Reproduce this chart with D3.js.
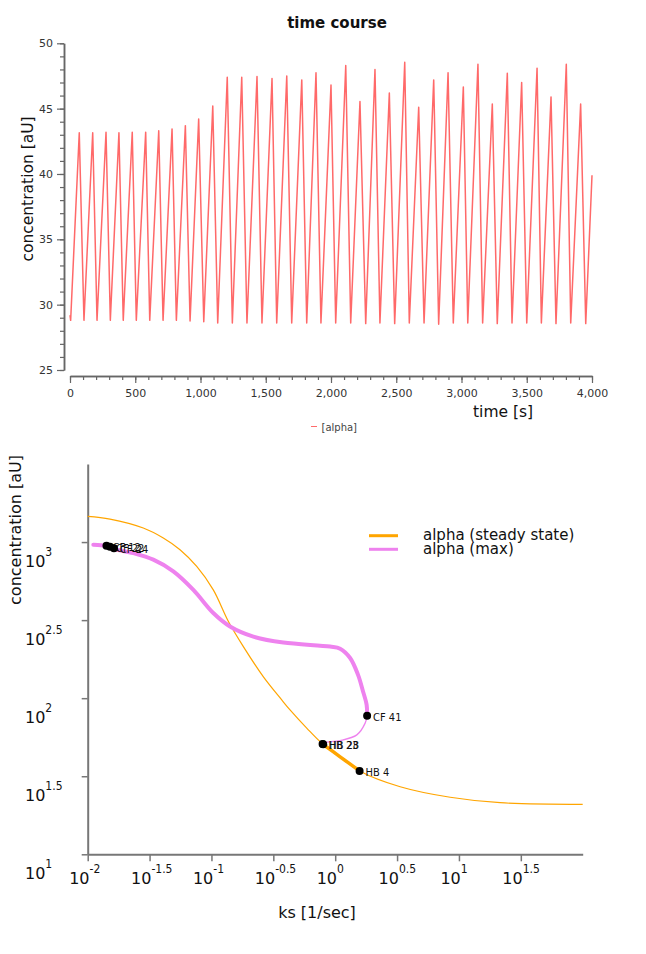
<!DOCTYPE html>
<html>
<head>
<meta charset="utf-8">
<script src="https://cdn.jsdelivr.net/npm/d3@7"></script>
<style>
body { margin: 0; background: #fff; }
text { font-family: "DejaVu Sans", sans-serif; }
</style>
</head>
<body>
<script>
// time course: turning points of alpha
const tcTime = [
    0, 5,
    71, 107, 174, 207, 276, 309, 375, 408, 477, 508, 580, 611, 680, 713, 782, 815, 884, 920,
    986, 1025, 1094, 1132, 1205, 1244, 1316, 1356, 1433, 1471, 1548, 1584, 1661, 1699, 1776, 1814,
    1885, 1923, 2000, 2036, 2113, 2151, 2222, 2266, 2337, 2375, 2447, 2488, 2565, 2600, 2672, 2713,
    2787, 2825, 2897, 2937, 3014, 3048, 3126, 3162, 3236, 3274, 3351, 3387, 3461, 3500, 3579, 3612,
    3686, 3724, 3803, 3837, 3913, 3952, 4000
];
const tcConc = [
    29.2, 28.8,
    43.15, 28.8, 43.15, 28.8, 43.2, 28.8, 43.15, 28.8, 43.2, 28.8, 43.2, 28.8, 43.3, 28.8, 43.45, 28.8, 43.7, 28.75,
    44.2, 28.7, 45.2, 28.6, 47.4, 28.6, 47.4, 28.6, 47.45, 28.6, 47.3, 28.6, 47.5, 28.6, 47.2, 28.6,
    47.75, 28.6, 46.8, 28.6, 48.3, 28.6, 45.55, 28.55, 48.0, 28.6, 46.2, 28.55, 48.55, 28.6, 45.1, 28.6,
    47.2, 28.5, 47.75, 28.6, 46.65, 28.6, 48.4, 28.6, 45.35, 28.55, 47.7, 28.6, 47.0, 28.6, 48.1, 28.6,
    45.9, 28.55, 48.4, 28.6, 45.35, 28.55, 39.9
];
const tcYTicks = [25, 30, 35, 40, 45, 50];
const tcYMinor = d3.range(25, 51, 1);
const tcXTicks = [0, 500, 1000, 1500, 2000, 2500, 3000, 3500, 4000];
const tcXMinor = d3.range(0, 4001, 100);

// bifurcation diagram
const ssKs = [0.01, 0.01514, 0.02812, 0.04083, 0.05572, 0.07603, 0.1035, 0.1371, 0.1811, 0.263, 0.3698, 0.4315, 0.5888, 0.7907, 1.096, 1.574, 3.35, 8.492, 21.53, 100];
const ssConc = [1459, 1403, 1230, 1062, 893, 698, 494, 310, 214, 137, 97.5, 84.1, 64.3, 50.9, 42.1, 34.2, 27.1, 23.2, 21.4, 20.9];
const ssUnstable = [false, false, false, false, false, false, false, false, false, false, false, false, false, true, true, true, false, false, false, false];
const maxKs = [0.0111, 0.01418, 0.0161, 0.02339, 0.0339, 0.0492, 0.07142, 0.1035, 0.1412, 0.2181, 0.3811, 0.9099, 1.096, 1.32, 1.53, 1.681, 1.795, 1.811];
const maxConc = [961, 946, 906, 849, 771, 649, 494, 351, 288, 248, 227, 214, 207.6, 181, 141, 110, 90.6, 77.3];
const maxUnKs = [1.811, 1.746, 1.496, 1.096, 0.8227, 0.7907];
const maxUnConc = [77.3, 69.2, 58.2, 53.5, 51.9, 50.9];
const bifName = ["CF 12", "CF 22", "CF 24", "HB 28", "HB 23", "CF 41", "HB 4"];
const bifKs = [0.01418, 0.01514, 0.0163, 0.80, 0.7907, 1.811, 1.574];
const bifConc = [946, 933, 912, 50.6, 50.9, 77.3, 34.2];
const xExp = ["-2", "-1.5", "-1", "-0.5", "0", "0.5", "1", "1.5"];
const yExp = ["1", "1.5", "2", "2.5", "3"];

const svg = d3.select("body").append("svg")
.attr("width", 646)
.attr("height", 954);

// ---------- top: time course ----------
const x1 = d3.scaleLinear().domain([0, 4000]).range([70, 592]);
const y1 = d3.scaleLinear().domain([25, 50]).range([370, 43.3]);

svg.append("text")
.attr("x", 337)
.attr("y", 28)
.attr("text-anchor", "middle")
.style("font-size", "15px")
.style("font-weight", "bold")
.style("fill", "#111")
.text("time course");

function styleAxis(g, color) {
    g.select(".domain").attr("stroke", color).attr("stroke-width", 1.5);
    g.selectAll(".tick line").attr("stroke", color).attr("stroke-width", 1.2);
    g.selectAll("text").style("font-family", "DejaVu Sans").style("font-size", "11px").style("fill", "#333");
}

svg.append("g")
.attr("transform", "translate(64,0)")
.call(d3.axisLeft(y1).tickValues(tcYMinor).tickSize(4).tickSizeOuter(0).tickFormat(""))
.call(g => styleAxis(g, "#666"));
svg.append("g")
.attr("transform", "translate(64,0)")
.call(d3.axisLeft(y1).tickValues(tcYTicks).tickSize(7).tickSizeOuter(0).tickPadding(4))
.call(g => styleAxis(g, "#666"));

svg.append("g")
.attr("transform", "translate(0,376)")
.call(d3.axisBottom(x1).tickValues(tcXMinor).tickSize(4).tickSizeOuter(0).tickFormat(""))
.call(g => styleAxis(g, "#666"));
svg.append("g")
.attr("transform", "translate(0,376)")
.call(d3.axisBottom(x1).tickValues(tcXTicks).tickSize(7).tickSizeOuter(0).tickPadding(6).tickFormat(d3.format(",")))
.call(g => styleAxis(g, "#666"));

svg.append("text")
.attr("transform", "translate(33,189) rotate(-90)")
.attr("text-anchor", "middle")
.style("font-size", "15.5px")
.style("fill", "#111")
.text("concentration [aU]");

svg.append("text")
.attr("x", 473)
.attr("y", 417)
.style("font-size", "15.5px")
.style("fill", "#111")
.text("time [s]");

const tcLine = d3.line()
.x((d, i) => x1(tcTime[i]))
.y(d => y1(d));

svg.append("path")
.attr("d", tcLine(tcConc))
.attr("fill", "none")
.attr("stroke", "#ff2a2a")
.attr("stroke-width", 1.5)
.attr("stroke-opacity", 0.7)
.attr("stroke-linejoin", "round");

svg.append("line")
.attr("x1", 311).attr("x2", 317)
.attr("y1", 426.5).attr("y2", 426.5)
.attr("stroke", "#ff6b6b")
.attr("stroke-width", 1);
svg.append("text")
.attr("x", 321.5)
.attr("y", 430.5)
.style("font-size", "10px")
.style("fill", "#444")
.text("[alpha]");

// ---------- bottom: bifurcation diagram ----------
const x2 = d3.scaleLog().domain([0.01, 100]).range([87.7, 582.7]);
const y2 = d3.scaleLog().domain([10, Math.pow(10, 3.5)]).range([854.3, 464]);

svg.append("g")
.attr("transform", "translate(87.7,0)")
.call(d3.axisLeft(y2).tickValues(yExp.map(e => Math.pow(10, +e))).tickSize(6).tickSizeOuter(0).tickFormat(""))
.call(g => {
    g.select(".domain").attr("stroke", "#777").attr("stroke-width", 2);
    g.selectAll(".tick line").attr("stroke", "#777").attr("stroke-width", 1.5);
});

svg.append("g")
.attr("transform", "translate(0,854.3)")
.call(d3.axisBottom(x2).tickValues(xExp.map(e => Math.pow(10, +e))).tickSize(7).tickSizeOuter(0).tickFormat(""))
.call(g => {
    g.select(".domain").attr("stroke", "#777").attr("stroke-width", 2);
    g.selectAll(".tick line").attr("stroke", "#777").attr("stroke-width", 1.5);
});

function powLabel(xPos, yPos, e) {
    const t = svg.append("text")
    .attr("x", xPos)
    .attr("y", yPos)
    .style("font-size", "16px")
    .style("fill", "#111");
    t.append("tspan").text("10");
    t.append("tspan")
    .attr("dy", -11)
    .style("font-size", "12px")
    .style("font-family", "DejaVu Sans Condensed, DejaVu Sans")
    .text(e);
}

yExp.forEach(e => powLabel(25, y2(Math.pow(10, +e)) + 25, e));
xExp.forEach(e => powLabel(x2(Math.pow(10, +e)) - 18.5, 884, e));

svg.append("text")
.attr("transform", "translate(21,530) rotate(-90)")
.attr("text-anchor", "middle")
.style("font-size", "16px")
.style("fill", "#111")
.text("concentration [aU]");

svg.append("text")
.attr("x", 317)
.attr("y", 918)
.attr("text-anchor", "middle")
.style("font-size", "16px")
.style("fill", "#111")
.text("ks [1/sec]");

const curve = d3.line()
.x(d => x2(d[0]))
.y(d => y2(d[1]))
.curve(d3.curveCatmullRom.alpha(0.5));

const ssPts = ssKs.map((k, i) => [k, ssConc[i]]);
svg.append("path")
.attr("d", curve(ssPts))
.attr("fill", "none")
.attr("stroke", "orange")
.attr("stroke-width", 1.2);
svg.append("path")
.attr("d", curve(ssPts.filter((d, i) => ssUnstable[i])))
.attr("fill", "none")
.attr("stroke", "orange")
.attr("stroke-width", 3.5);

svg.append("path")
.attr("d", curve(maxKs.map((k, i) => [k, maxConc[i]])))
.attr("fill", "none")
.attr("stroke", "violet")
.attr("stroke-width", 4)
.attr("stroke-linecap", "round");
svg.append("path")
.attr("d", curve(maxUnKs.map((k, i) => [k, maxUnConc[i]])))
.attr("fill", "none")
.attr("stroke", "violet")
.attr("stroke-width", 1.3);

bifName.forEach((name, i) => {
    svg.append("circle")
    .attr("cx", x2(bifKs[i]))
    .attr("cy", y2(bifConc[i]))
    .attr("r", 4)
    .attr("fill", "black");
    svg.append("text")
    .attr("x", x2(bifKs[i]) + 6)
    .attr("y", y2(bifConc[i]) + 5)
    .style("font-family", "DejaVu Sans Condensed, DejaVu Sans")
    .style("font-size", "11px")
    .style("fill", "#111")
    .text(name);
});

// legend
const legend = [["alpha (steady state)", "orange"], ["alpha (max)", "violet"]];
legend.forEach((l, i) => {
    const yy = 535.7 + i * 13.6;
    svg.append("line")
    .attr("x1", 369).attr("x2", 398)
    .attr("y1", yy).attr("y2", yy)
    .attr("stroke", l[1])
    .attr("stroke-width", 3);
    svg.append("text")
    .attr("x", 423)
    .attr("y", yy + 4.5)
    .style("font-size", "15px")
    .style("fill", "#111")
    .text(l[0]);
});
</script>
</body>
</html>
